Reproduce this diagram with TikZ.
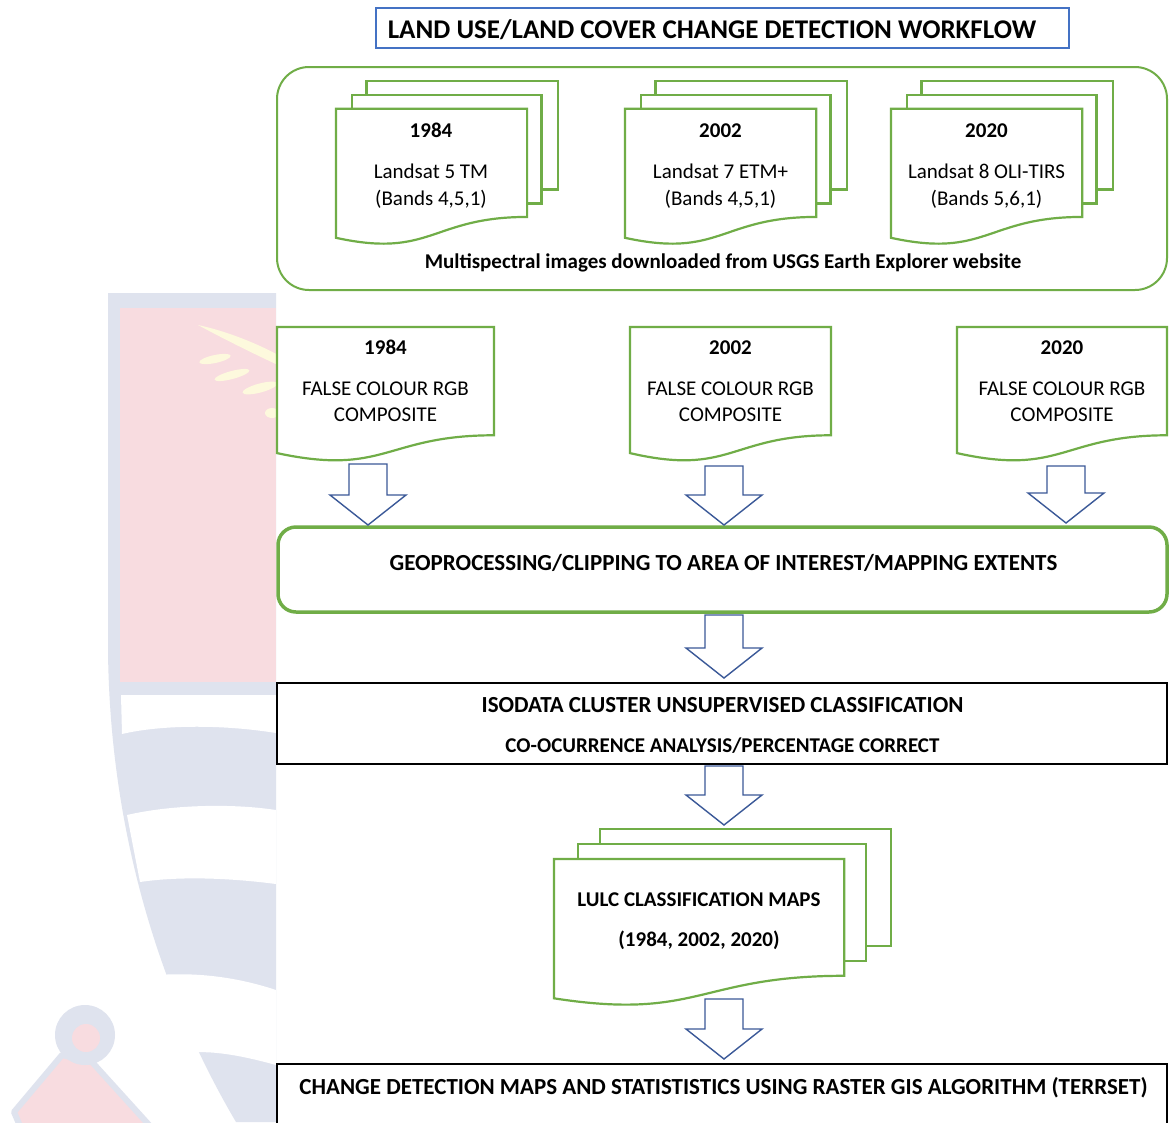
\documentclass[tikz,border=0pt]{standalone}
\usepackage{fontspec}
\setmainfont{Carlito}
\definecolor{gr}{RGB}{112,173,71}
\definecolor{tb}{RGB}{68,114,196}
\definecolor{ab}{RGB}{59,89,152}
\definecolor{wmg}{RGB}{223,227,238}
\definecolor{wmp}{RGB}{248,220,224}
\definecolor{wmy}{RGB}{253,249,221}
\newcommand\mdoc[5]{%
  \path[docsty] ({#1+0.1376*#3},#2) rectangle ({#1+#3},{#2+0.666*#4});
  \path[docsty] ({#1+0.0709*#3},{#2+0.084*#4}) rectangle ({#1+0.926*#3},{#2+0.752*#4});
  \path[docsty] (#1,{#2+0.17*#4}) -- ({#1+0.861*#3},{#2+0.17*#4}) -- ({#1+0.861*#3},{#2+0.834*#4})
     .. controls ({#1+0.43*#3},{#2+0.834*#4}) and ({#1+0.43*#3},{#2+1.09*#4}) .. (#1,{#2+0.962*#4}) -- cycle;
  \coordinate (#5) at ({#1+0.43*#3},{#2+0.17*#4});}
\newcommand\sdoc[5]{%
  \path[docsty] (#1,#2) -- ({#1+#3},#2) -- ({#1+#3},{#2+0.802*#4})
     .. controls ({#1+0.5*#3},{#2+0.802*#4}) and ({#1+0.5*#3},{#2+1.1075*#4}) .. (#1,{#2+0.934*#4}) -- cycle;
  \coordinate (#5) at ({#1+0.5*#3},#2);}
\newcommand\blkarrow[2]{% from coordinate #1 (top centre) to coordinate #2 (tip)
  \path[arrsty] ($(#1)+(-19,0)$) -- ($(#1)+(19,0)$) -- ($(#2)+(19,-30)$) -- ($(#2)+(38,-30)$) -- (#2)
     -- ($(#2)+(-38,-30)$) -- ($(#2)+(-19,-30)$) -- cycle;}
\usetikzlibrary{calc}
\begin{document}
\begin{tikzpicture}[x=1pt,y=-1pt,
  docsty/.style={fill=white, draw=gr, line width=2.2pt, line join=miter},
  arrsty/.style={fill=white, draw=ab, line width=1.4pt, line join=miter},
  lbl/.style={anchor=base, inner sep=0pt, font=\fontsize{21}{25}\selectfont},
  blbl/.style={anchor=base, inner sep=0pt, font=\fontsize{21}{25}\selectfont\bfseries},
  bigl/.style={anchor=base, inner sep=0pt, font=\fontsize{23}{27}\selectfont\bfseries}]
\useasboundingbox (0,0) rectangle (1169,1122);
\clip (0,0) rectangle (1169,1122);
\fill[white] (0,0) rectangle (1169,1122);
% ---- watermark (left margin) ----
\begin{scope}
  \clip (0,0) rectangle (276,1122);
  \fill[wmg] (108,293) -- (276,293) -- (276,1122) -- (236,1122) .. controls (170,1010) and (110,850) .. (108,650) -- cycle;
  \fill[wmp] (120,308) rectangle (276,682);
  \fill[wmy] (198,325) .. controls (230,332) and (260,345) .. (280,356) -- (280,366) .. controls (250,352) and (222,338) .. cycle;
  \fill[wmy] (215,359) ellipse [x radius=16, y radius=4, rotate=12];
  \fill[wmy] (232,375) ellipse [x radius=18, y radius=4, rotate=15];
  \fill[wmy] (260,388) ellipse [x radius=18, y radius=4.5, rotate=15];
  \fill[wmy] (272,413) ellipse [x radius=7, y radius=5];
  \fill[white] (121,695) -- (276,695) -- (276,733) .. controls (220,724) and (160,725) .. (122,734) -- cycle;
  \fill[white] (127,815) .. controls (170,805) and (230,803) .. (276,810) -- (276,884) .. controls (230,878) and (180,876) .. (140,882) -- cycle;
  \fill[white] (158,975) .. controls (200,972) and (240,978) .. (276,990) -- (276,1065) .. controls (240,1055) and (210,1050) .. (187,1053) -- cycle;
  \path[fill=wmp, draw=wmg, line width=6pt, line join=round] (62,1055) -- (14,1112) -- (20,1126) -- (150,1126) -- (92,1062) -- cycle;
  \fill[wmg] (85,1035) circle (30);
  \fill[wmp] (86,1038) circle (14);
\end{scope}
% ---- title ----
\node[draw=tb, line width=1.5pt, minimum width=693pt, minimum height=40pt, inner sep=0pt] (titlebox) at (722.5,28) {};
\node[anchor=base, inner sep=0pt, font=\fontsize{27}{31}\selectfont\bfseries] (title) at (712,38.5) {LAND USE/LAND COVER CHANGE DETECTION WORKFLOW};
% ---- input panel ----
\node[draw=gr, line width=2pt, rounded corners=32pt, minimum width=890pt, minimum height=223pt, inner sep=0pt] (panel) at (722,178.5) {};
\mdoc{336}{81}{222}{163}{s1}
\mdoc{625}{81}{222}{163}{s2}
\mdoc{891}{81}{222}{163}{s3}
\node[blbl] (s1y) at (431,137.8) {1984};
\node[lbl] (s1a) at (431,178.8) {Landsat 5 TM};
\node[lbl] (s1b) at (431,205.8) {(Bands 4,5,1)};
\node[blbl] (s2y) at (720.5,137.8) {2002};
\node[lbl] (s2a) at (720.5,178.8) {Landsat 7 ETM+};
\node[lbl] (s2b) at (720.5,205.8) {(Bands 4,5,1)};
\node[blbl] (s3y) at (986.5,137.8) {2020};
\node[lbl] (s3a) at (986.5,178.8) {Landsat 8 OLI-TIRS};
\node[lbl] (s3b) at (986.5,205.8) {(Bands 5,6,1)};
\node[blbl] (caption) at (723,268.8) {Multispectral images downloaded from USGS Earth Explorer website};
% ---- false colour composites ----
\sdoc{277}{327}{217}{135}{dA}
\sdoc{630}{327}{201}{135}{dB}
\sdoc{957}{327}{210}{135}{dC}
\node[blbl] (dAy) at (385.5,354.8) {1984};
\node[lbl] (dAa) at (385.5,395.8) {FALSE COLOUR RGB};
\node[lbl] (dAb) at (385.5,421.8) {COMPOSITE};
\node[blbl] (dBy) at (730.5,354.8) {2002};
\node[lbl] (dBa) at (730.5,395.8) {FALSE COLOUR RGB};
\node[lbl] (dBb) at (730.5,421.8) {COMPOSITE};
\node[blbl] (dCy) at (1062,354.8) {2020};
\node[lbl] (dCa) at (1062,395.8) {FALSE COLOUR RGB};
\node[lbl] (dCb) at (1062,421.8) {COMPOSITE};
% ---- processing boxes ----
\node[draw=gr, line width=3.5pt, rounded corners=18pt, minimum width=889pt, minimum height=85pt, inner sep=0pt] (geo) at (722.5,569.5) {};
\node[bigl] (geot) at (723.5,570.4) {GEOPROCESSING/CLIPPING TO AREA OF INTEREST/MAPPING EXTENTS};
\node[draw=black, line width=2.5pt, minimum width=890pt, minimum height=81pt, inner sep=0pt] (iso) at (722,723.5) {};
\node[bigl] (isoa) at (722.5,712.4) {ISODATA CLUSTER UNSUPERVISED CLASSIFICATION};
\node[blbl] (isob) at (722.5,752.8) {CO-OCURRENCE ANALYSIS/PERCENTAGE CORRECT};
\mdoc{554}{829}{337}{176}{lulc}
\node[blbl] (lulca) at (699,906.8) {LULC CLASSIFICATION MAPS};
\node[blbl] (lulcb) at (699,946.8) {(1984, 2002, 2020)};
\node[draw=black, line width=2.5pt, minimum width=890pt, minimum height=80pt, inner sep=0pt] (last) at (722,1104) {};
\node[bigl] (lastt) at (723.5,1094.4) {CHANGE DETECTION MAPS AND STATISTISTICS USING RASTER GIS ALGORITHM (TERRSET)};
% ---- block arrows ----
\coordinate (a1t) at (368,464);  \coordinate (a1b) at (368,525);
\coordinate (a2t) at (724,466);  \coordinate (a2b) at (724,525);
\coordinate (a3t) at (1066,466); \coordinate (a3b) at (1066,523);
\coordinate (a4t) at (724,615);  \coordinate (a4b) at (724,678);
\coordinate (a5t) at (724,766);  \coordinate (a5b) at (724,825);
\coordinate (a6t) at (724,999);  \coordinate (a6b) at (724,1059);
\blkarrow{a1t}{a1b}
\blkarrow{a2t}{a2b}
\blkarrow{a3t}{a3b}
\blkarrow{a4t}{a4b}
\blkarrow{a5t}{a5b}
\blkarrow{a6t}{a6b}
\end{tikzpicture}
\end{document}
